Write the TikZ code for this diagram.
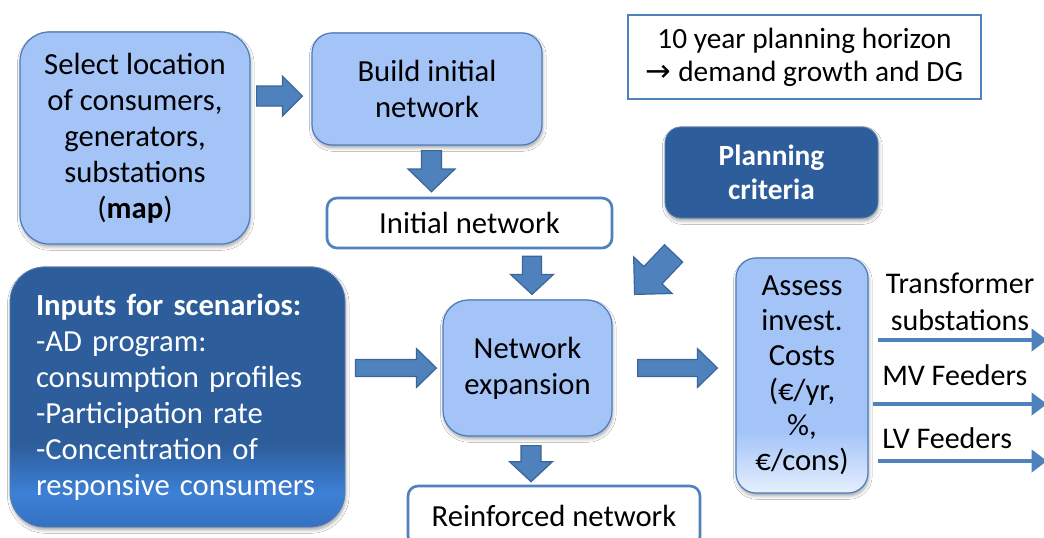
\documentclass[tikz,border=0pt]{standalone}
\usepackage{fontspec}
\setmainfont{Carlito}
\newfontfamily\symfont{DejaVu Sans}
\usetikzlibrary{calc,arrows.meta,shadows.blur}

\definecolor{lightfill}{HTML}{A4C4F8}
\definecolor{boxline}{HTML}{4A7CBC}
\definecolor{darkfill}{HTML}{2D5D9B}
\definecolor{arrowfill}{HTML}{4F81BD}
\definecolor{arrowline}{HTML}{3A6599}
\definecolor{brightblue}{HTML}{3D80D6}
\definecolor{inputbottom}{HTML}{3571C2}
\definecolor{paleblue}{HTML}{E6F0FF}
\definecolor{midpale}{HTML}{CCDEFC}

% vertical shadings: the path box spans 25bp (bottom) to 75bp (top)
\pgfdeclareverticalshading{inputshade}{100bp}{color(0bp)=(inputbottom); color(25bp)=(inputbottom); color(31.5bp)=(brightblue); color(41bp)=(darkfill); color(75bp)=(darkfill); color(100bp)=(darkfill)}
\pgfdeclareverticalshading{assessshade}{100bp}{color(0bp)=(paleblue); color(25bp)=(paleblue); color(30bp)=(midpale); color(38bp)=(lightfill); color(75bp)=(lightfill); color(100bp)=(lightfill)}

% block arrow from #1 to #2: half shaft #3, half head #4, head length #5
\newcommand\bluearrow[5]{%
  \coordinate (ba-s) at #1;
  \coordinate (ba-t) at #2;
  \coordinate (ba-c) at ($(ba-t)!#5!(ba-s)$);
  \draw[blockarrow] ($(ba-s)!#3!90:(ba-t)$) -- ($(ba-c)!#3!90:(ba-t)$)
    -- ($(ba-c)!#4!90:(ba-t)$) -- (ba-t) -- ($(ba-c)!#4!-90:(ba-t)$)
    -- ($(ba-c)!#3!-90:(ba-t)$) -- ($(ba-s)!#3!-90:(ba-t)$) -- cycle;}

\tikzset{
  txt/.style={font=\fontsize{23}{27}\selectfont},
  softshadow/.style={blur shadow={shadow xshift=0.6pt, shadow yshift=-2.2pt,
      shadow blur radius=2.5pt, shadow opacity=35}},
  lightbox/.style={txt, draw=boxline, line width=0.9pt, fill=lightfill,
      align=center, inner sep=0pt, softshadow},
  whitebox/.style={txt, draw=arrowfill, line width=2pt, fill=white,
      align=center, inner sep=0pt, rounded corners=7.5pt},
  darkbox/.style={draw=darkfill!80!white, line width=0.6pt, text=white,
      inner sep=0pt, softshadow},
  blockarrow/.style={fill=arrowfill, draw=arrowline, line width=0.9pt, line join=miter},
  thinarrow/.style={draw=arrowfill, line width=3pt,
      -{Triangle[length=11.5pt, width=16.5pt]}},
  label/.style={txt, inner sep=0pt},
}

\begin{document}
\begin{tikzpicture}[x=0.75pt, y=-0.75pt]
\path[use as bounding box] (0,0) rectangle (1044,537);
\clip (0,0) rectangle (1044,537);
\fill[white] (0,0) rectangle (1044,537);

% process boxes
\node[lightbox, rounded corners=22pt, minimum width=172.5pt, minimum height=159pt]
  (sel) at (135,138) {Select location\\of consumers,\\generators,\\substations\\(\textbf{map})};
\node[lightbox, rounded corners=15pt, minimum width=172.5pt, minimum height=84pt]
  (build) at (427,89) {Build initial\\network};
\node[whitebox, minimum width=213.75pt, minimum height=37.5pt]
  (init) at (469.5,223) {Initial network};
\node[txt, font=\fontsize{22}{24.75}\selectfont, draw=arrowfill, line width=2pt, fill=white,
  align=center, inner sep=0pt, minimum width=264.75pt, minimum height=63pt]
  (horizon) at (804.5,57) {10 year planning horizon\\{\symfont\fontsize{23}{24.75}\selectfont →} demand growth and DG};
\node[darkbox, fill=darkfill, rounded corners=12pt, align=center,
  font=\fontsize{22}{25.5}\selectfont\bfseries, minimum width=159.75pt, minimum height=68.25pt]
  (plan) at (771.5,172.5) {Planning\\criteria};
\node[lightbox, rounded corners=19pt, minimum width=126.75pt, minimum height=102pt]
  (netexp) at (527.5,368) {Network\\expansion};
\node[darkbox, shading=inputshade, rounded corners=26pt, txt, align=left,
  text width=212.25pt, inner xsep=19.5pt, minimum width=251.25pt, minimum height=195pt]
  (inputs) at (177.5,397) {\textbf{Inputs for scenarios:}\\-AD program:\\consumption profiles\\-Participation rate\\-Concentration of\\responsive consumers};
\node[lightbox, shading=assessshade, rounded corners=15pt, font=\fontsize{23}{26.25}\selectfont,
  minimum width=99pt, minimum height=176.25pt]
  (assess) at (802,375.5) {Assess\\invest.\\Costs\\(€/yr,\\\%,\\€/cons)};
\node[whitebox, minimum width=219pt, minimum height=45pt]
  (reinf) at (554,516) {Reinforced network};

% block arrows between the steps
\bluearrow{($(sel.east |- build.center)+(6,7)$)}{($(build.west)+(-9,7)$)}{7.5pt}{15pt}{15pt}
\bluearrow{($(build.south)+(4.5,5)$)}{($(build.south |- init.north)+(4.5,-5)$)}{7.5pt}{17.6pt}{17pt}
\bluearrow{($(netexp.north |- init.south)+(4.5,7)$)}{($(netexp.north)+(4.5,-5)$)}{7.1pt}{16.1pt}{15pt}
\bluearrow{($(plan.south west)+(9,35)$)}{($(netexp.north east)+(22,-5)$)}{9.4pt}{19.9pt}{19.9pt}
\bluearrow{($(inputs.east |- netexp.west)+(10,0)$)}{($(netexp.west)+(-6,0)$)}{6.4pt}{14.6pt}{15pt}
\bluearrow{($(netexp.east)+(25,0)$)}{($(netexp.east -| assess.west)+(-18,0)$)}{6.4pt}{14.6pt}{15pt}
\bluearrow{($(netexp.south)+(3.5,9)$)}{($(netexp.south |- reinf.north)+(3.5,-3)$)}{7.5pt}{16.1pt}{15pt}

% cost outputs
\coordinate (out1) at (1047,340);
\coordinate (out2) at (1047,404);
\coordinate (out3) at (1047,461);
\draw[thinarrow] ($(assess.east |- out1)+(9,0)$) -- (out1);
\draw[thinarrow] ($(assess.east |- out2)+(4,0)$) -- (out2);
\draw[thinarrow] ($(assess.east |- out3)+(9,0)$) -- (out3);
\node[label, align=center, font=\fontsize{22.5}{27.5}\selectfont] (lab1) at (960,302) {Transformer\\substations};
\node[label, anchor=west, font=\fontsize{22.5}{27}\selectfont] (lab2) at (882,375) {MV Feeders};
\node[label, anchor=west, font=\fontsize{22.5}{27}\selectfont] (lab3) at (882,438) {LV Feeders};
\end{tikzpicture}
\end{document}
